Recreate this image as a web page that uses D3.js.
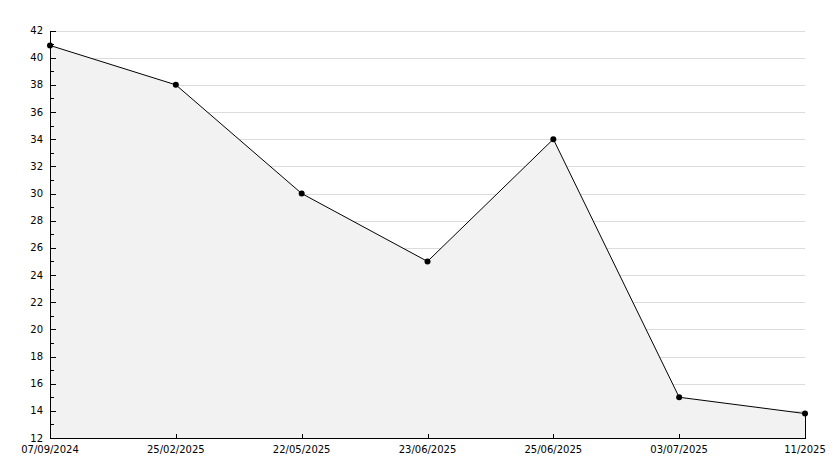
<!DOCTYPE html>
<html><head><meta charset="utf-8">
<script src="https://cdn.jsdelivr.net/npm/d3@7"></script>
<style>body{margin:0;background:#fff}svg{display:block}</style>
</head><body>
<svg id="c" width="834" height="468"></svg>
<script>
const categories = ["07/09/2024","25/02/2025","22/05/2025","23/06/2025","25/06/2025","03/07/2025","11/2025"];
const values = [40.9, 38, 30, 25, 34, 15, 13.8];
const yTicks = [12,14,16,18,20,22,24,26,28,30,32,34,36,38,40,42];

(function(){
const svg = d3.select("#c");
const mLeft = 50, mRight = 805, mTop = 30.5, mBottom = 438;
const x = d3.scalePoint().domain(categories).range([mLeft, mRight]);
const y = d3.scaleLinear().domain([12, 42]).range([mBottom, mTop]);
const font = "DejaVu Sans, sans-serif";

// grid
svg.append("g").selectAll("line").data(yTicks.slice(1)).join("line")
  .attr("x1", mLeft).attr("x2", mRight)
  .attr("y1", d => Math.round(y(d)) + 0.5).attr("y2", d => Math.round(y(d)) + 0.5)
  .attr("stroke", "#dcdcdc").attr("stroke-width", 1).attr("shape-rendering","crispEdges");

// area
const area = d3.area().x((d,i) => x(categories[i])).y0(mBottom).y1(d => y(d));
svg.append("path").datum(values).attr("d", area).attr("fill", "#f2f2f2");

// right edge line
const lastX = x(categories[categories.length-1]);
svg.append("line").attr("x1", lastX+0.5).attr("x2", lastX+0.5)
  .attr("y1", y(values[values.length-1])).attr("y2", mBottom)
  .attr("stroke", "#000").attr("shape-rendering","crispEdges");

// line
const line = d3.line().x((d,i) => x(categories[i])).y(d => y(d));
svg.append("path").datum(values).attr("d", line).attr("fill", "none").attr("stroke", "#000").attr("stroke-width", 1);

// y axis
const yAxis = d3.axisRight(y).tickValues(d3.range(12, 43, 1)).tickFormat("").tickSizeOuter(0).tickSize(3);
const gy = svg.append("g").attr("transform", `translate(${mLeft+0.5},0)`).call(yAxis);
gy.selectAll(".tick line").attr("x2", d => d % 2 === 0 ? 5 : 3).attr("shape-rendering","crispEdges");
gy.select(".domain").attr("d", `M0,${mBottom}V${mTop}`).attr("shape-rendering","crispEdges");
svg.append("g").selectAll("text").data(yTicks).join("text")
  .attr("x", 43).attr("y", d => y(d)).attr("dy", "0.35em")
  .attr("text-anchor", "end").attr("font-family", font).attr("font-size", 10).attr("fill", "#000")
  .text(d => d);

// x axis
const xAxis = d3.axisTop(x).tickSize(5).tickSizeOuter(0).tickFormat("");
const gx = svg.append("g").attr("transform", `translate(0,${mBottom+0.5})`).call(xAxis);
gx.select(".domain").attr("d", `M${mLeft},0H${mRight+1}`).attr("shape-rendering","crispEdges");
gx.selectAll(".tick line").attr("shape-rendering","crispEdges");
svg.append("g").selectAll("text").data(categories).join("text")
  .attr("x", d => x(d)).attr("y", 449).attr("dy", "0.35em")
  .attr("text-anchor", "middle").attr("font-family", font).attr("font-size", 10).attr("fill", "#000")
  .text(d => d);

// markers
svg.append("g").selectAll("circle").data(values).join("circle")
  .attr("cx", (d,i) => x(categories[i])).attr("cy", d => y(d)).attr("r", 3).attr("fill", "#000");
})();
</script>
</body></html>
